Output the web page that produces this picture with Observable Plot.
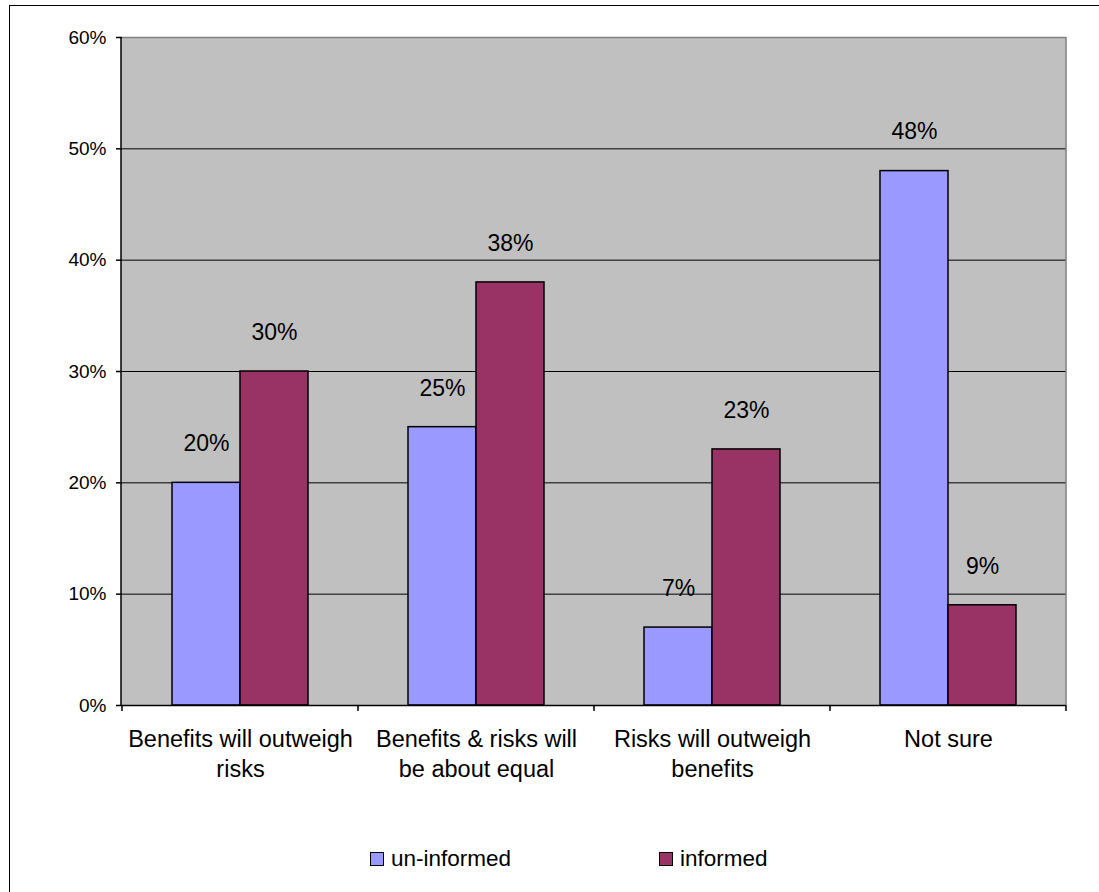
<!DOCTYPE html>
<html>
<head>
<meta charset="utf-8">
<script src="https://cdn.jsdelivr.net/npm/d3@7"></script>
<script src="https://cdn.jsdelivr.net/npm/@observablehq/plot@0.6"></script>
<style>
  html, body { margin: 0; padding: 0; background: #fff; }
  #wrap { position: relative; width: 1099px; height: 892px; overflow: hidden; font-family: "Liberation Sans", Arial, sans-serif; }
  #border { position: absolute; left: 9px; top: 5px; right: -10px; bottom: -10px; border-left: 1.5px solid #000; border-top: 1.5px solid #000; }
  #chart { position: absolute; left: 0; top: 0; }
  #legend { position: absolute; top: 846px; left: 0; width: 1099px; height: 30px; font-size: 22.5px; color: #000; }
  .item { position: absolute; top: 0; display: flex; align-items: center; }
  .sw { width: 12px; height: 12px; border: 1.5px solid #000; margin-right: 7px; }
</style>
</head>
<body>
<div id="wrap">
  <div id="border"></div>
  <div id="chart"></div>
  <div id="legend"></div>
</div>
<script>
const categories = ["Benefits will outweigh risks", "Benefits & risks will be about equal", "Risks will outweigh benefits", "Not sure"];
const categoryLabels = ["Benefits will outweigh\nrisks", "Benefits & risks will\nbe about equal", "Risks will outweigh\nbenefits", "Not sure"];
const series = ["un-informed", "informed"];
const uninformed = [20, 25, 7, 48];
const informed = [30, 38, 23, 9];
const yTicks = [0, 10, 20, 30, 40, 50, 60];
const gridValues = [10, 20, 30, 40, 50];
const colors = ["#9999FF", "#993366"];

const data = [];
categories.forEach((c, i) => {
  data.push({category: c, series: series[0], value: uninformed[i]});
  data.push({category: c, series: series[1], value: informed[i]});
});
const labelOf = new Map(categories.map((c, i) => [c, categoryLabels[i]]));

const W = 1099, H = 800;
const plot = Plot.plot({
  width: W,
  height: H,
  marginLeft: 121,
  marginRight: 33,
  marginTop: 37,
  marginBottom: 95,
  style: {fontFamily: "'Liberation Sans', Arial, sans-serif", fontSize: "19px", background: "transparent", color: "#000", overflow: "visible"},
  fx: {domain: categories, padding: 0, label: null},
  x: {domain: series, paddingInner: 0, paddingOuter: 0.73, axis: null},
  y: {domain: [0, 60], label: null},
  color: {domain: series, range: colors},
  marks: [
    Plot.ruleY(gridValues, {stroke: "#000", strokeWidth: 1}),
    Plot.ruleY([60], {stroke: "#808080", strokeWidth: 1.5}),
    Plot.barY(data, {fx: "category", x: "series", y: "value", fill: "series", stroke: "#000", strokeWidth: 1.5, inset: 0}),
    Plot.text(data, {fx: "category", x: "series", y: "value", text: d => d.value + "%", dy: -39, fontSize: 23, fill: "#000"}),
    Plot.ruleY([0], {stroke: "#000", strokeWidth: 1.5}),
    Plot.axisY({ticks: yTicks, tickSize: 6, tickPadding: 10, tickFormat: d => d + "%", fontSize: 19, label: null, strokeWidth: 1.5}),
    Plot.axisFx({anchor: "bottom", tickSize: 0, tickPadding: 20, fontSize: 23.5, lineHeight: 30 / 23.5, tickFormat: c => labelOf.get(c), label: null})
  ]
});
document.getElementById("chart").appendChild(plot);

// frame details drawn from the library's scales
const fx = plot.scale("fx");
const y = plot.scale("y");
const y0 = y.apply(0), y60 = y.apply(60);
const left = fx.range[0], right = fx.range[1];
const svg = d3.select(plot);
svg.insert("rect", ":first-child")
  .attr("x", left).attr("y", y60).attr("width", right - left).attr("height", y0 - y60)
  .attr("fill", "#C0C0C0");
svg.append("line")
  .attr("x1", right).attr("x2", right).attr("y1", y60).attr("y2", y0)
  .attr("stroke", "#808080").attr("stroke-width", 1.5);
svg.append("line")
  .attr("x1", left).attr("x2", left).attr("y1", y60).attr("y2", y0)
  .attr("stroke", "#000").attr("stroke-width", 1.5);
const bounds = categories.map(c => fx.apply(c)).concat([fx.apply(categories[categories.length - 1]) + fx.step]);
svg.append("g").selectAll("line").data(bounds).join("line")
  .attr("x1", d => d).attr("x2", d => d).attr("y1", y0).attr("y2", y0 + 6)
  .attr("stroke", "#000").attr("stroke-width", 1.5);

// legend
const legendX = [370, 659];
const legend = document.getElementById("legend");
series.forEach((s, i) => {
  const item = document.createElement("div");
  item.className = "item";
  item.style.left = legendX[i] + "px";
  const sw = document.createElement("div");
  sw.className = "sw";
  sw.style.background = colors[i];
  const t = document.createElement("span");
  t.textContent = s;
  item.appendChild(sw);
  item.appendChild(t);
  legend.appendChild(item);
});
</script>
</body>
</html>
